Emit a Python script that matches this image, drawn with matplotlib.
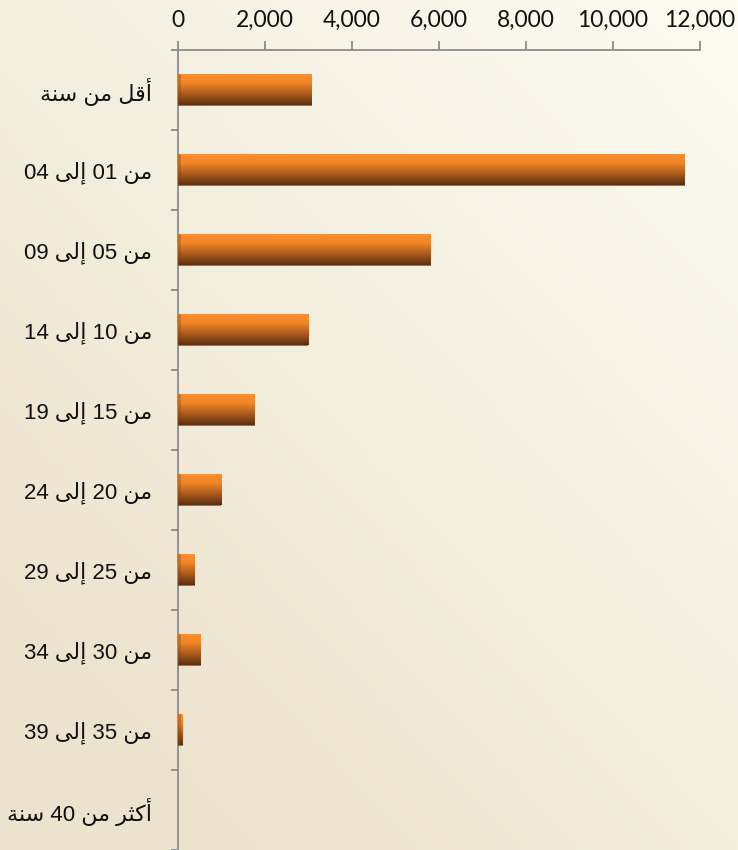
import matplotlib
matplotlib.use('Agg')
import matplotlib.pyplot as plt
import numpy as np
from matplotlib.colors import LinearSegmentedColormap

# age groups (logical Arabic text) and counts
categories = ['أقل من سنة', 'من 01 إلى 04', 'من 05 إلى 09', 'من 10 إلى 14',
              'من 15 إلى 19', 'من 20 إلى 24', 'من 25 إلى 29', 'من 30 إلى 34',
              'من 35 إلى 39', 'أكثر من 40 سنة']
values = [3080, 11650, 5815, 2990, 1770, 990, 390, 525, 105, 0]
xticks = [0, 2000, 4000, 6000, 8000, 10000, 12000]

# presentation forms: isolated, final, (initial, medial)
forms = {
    'ا': ('\uFE8D', '\uFE8E'),
    'أ': ('\uFE83', '\uFE84'),
    'إ': ('\uFE87', '\uFE88'),
    'ر': ('\uFEAD', '\uFEAE'),
    'ة': ('\uFE93', '\uFE94'),
    'ى': ('\uFEEF', '\uFEF0'),
    'ق': ('\uFED5', '\uFED6', '\uFED7', '\uFED8'),
    'ل': ('\uFEDD', '\uFEDE', '\uFEDF', '\uFEE0'),
    'م': ('\uFEE1', '\uFEE2', '\uFEE3', '\uFEE4'),
    'ن': ('\uFEE5', '\uFEE6', '\uFEE7', '\uFEE8'),
    'س': ('\uFEB1', '\uFEB2', '\uFEB3', '\uFEB4'),
    'ك': ('\uFED9', '\uFEDA', '\uFEDB', '\uFEDC'),
    'ث': ('\uFE99', '\uFE9A', '\uFE9B', '\uFE9C'),
}


def shape_word(word):
    out = []
    n = len(word)
    for i, c in enumerate(word):
        if c not in forms:
            out.append(c)
            continue
        f = forms[c]
        prev = i > 0 and word[i - 1] in forms and len(forms[word[i - 1]]) == 4
        nxt = i < n - 1 and word[i + 1] in forms and len(f) == 4
        if prev and nxt:
            out.append(f[3])
        elif prev:
            out.append(f[1])
        elif nxt:
            out.append(f[2])
        else:
            out.append(f[0])
    return ''.join(out)


def visual(label):
    # right-to-left line: reverse word order, reverse letters in Arabic words
    words = []
    for w in label.split(' '):
        if w.isdigit():
            words.append(w)
        else:
            words.append(shape_word(w)[::-1])
    return ' '.join(words[::-1])


fig = plt.figure(figsize=(7.38, 8.5), dpi=100)

# beige background gradient
bg = fig.add_axes([0, 0, 1, 1], zorder=-1)
xx, yy = np.meshgrid(np.linspace(0, 1, 200), np.linspace(0, 1, 200))
t = np.clip(0.55 * (1 - xx) + 0.6 * yy, 0, 1)
light = np.array([253, 252, 242]) / 255
dark = np.array([236, 227, 206]) / 255
img = light[None, None, :] * (1 - t[..., None]) + dark[None, None, :] * t[..., None]
bg.imshow(img, aspect='auto', extent=[0, 1, 0, 1], origin='upper')
bg.axis('off')

ax = fig.add_axes([178 / 738, 0.5 / 850, 522 / 738, 800 / 850])
ax.patch.set_alpha(0)

pos = np.arange(len(categories))
bars = ax.barh(pos, values, height=0.4, color='#C86A22', zorder=2)

grad_cmap = LinearSegmentedColormap.from_list(
    'bar', [(0, '#F5B27A'), (0.04, '#FB8D2D'), (0.3, '#F28727'),
            (0.65, '#A95A1C'), (1, '#5A300F')])
grad = np.linspace(0, 1, 100).reshape(-1, 1)
for p, v, b in zip(pos, values, bars):
    if v <= 0:
        continue
    im = ax.imshow(grad, cmap=grad_cmap, aspect='auto', origin='upper',
                   extent=(0, v, p + 0.2, p - 0.2), zorder=3)
    im.set_clip_path(b)
    # darker end face on the left
    ax.barh(p, min(v, 60), height=0.4, color='#7A4214', alpha=0.35, zorder=4)

ax.set_xlim(0, 12000)
ax.set_ylim(len(categories) - 0.5, -0.5)
ax.set_aspect('auto')

ax.xaxis.tick_top()
ax.set_xticks(xticks)
ax.set_xticklabels([f'{x:,}' for x in xticks], fontsize=16.5, family='Lato',
                   color='#111111')
ax.tick_params(axis='x', direction='out', length=6.5, width=1.3, color='#8c8c8c', pad=7)

ax.set_yticks(np.arange(len(categories) + 1) - 0.5)
ax.set_yticklabels([])
ax.tick_params(axis='y', which='major', direction='out', length=5, width=1.3,
               color='#8c8c8c')
ax.set_yticks(pos, minor=True)
ax.set_yticklabels([visual(c) for c in categories], minor=True, fontsize=16,
                   family=['Liberation Sans', 'DejaVu Sans'], color='#111111')
ax.tick_params(axis='y', which='minor', length=0, pad=18.5)

for s in ['right', 'bottom']:
    ax.spines[s].set_visible(False)
for s in ['top', 'left']:
    ax.spines[s].set_color('#8c8c8c')
    ax.spines[s].set_linewidth(1.3)

fig.savefig('out.png', dpi=100)
